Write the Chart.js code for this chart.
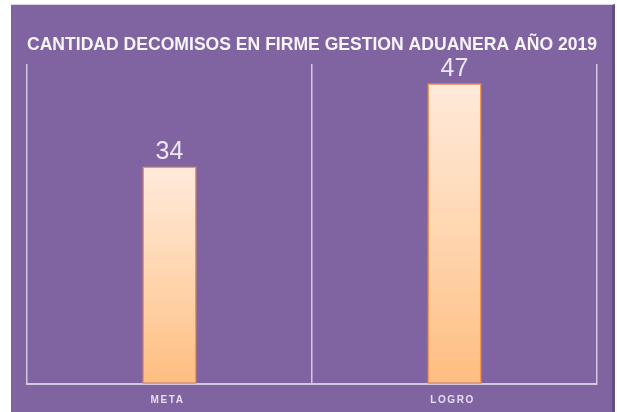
<!DOCTYPE html>
<html>
<head>
<meta charset="utf-8">
<script src="https://cdn.jsdelivr.net/npm/chart.js@4/dist/chart.umd.min.js"></script>
<style>
  html, body { margin: 0; padding: 0; background: #ffffff; }
  body { width: 617px; height: 412px; position: relative; overflow: hidden; }
  #panel {
    position: absolute;
    left: 11px; top: 4px;
    width: 601px; height: 408px;
    background: #8064a2;
    border-right: 3px solid #654d85;
    border-top: 1px solid #d9d4e0;
  }
  #panel canvas { display: block; }
</style>
</head>
<body>
<div id="panel"><canvas id="chart" width="601" height="408"></canvas></div>
<script>
// Decomisos en firme 2019: meta vs logro
const categories = ['META', 'LOGRO'];
const values = [34, 47];
const chartTitle = 'CANTIDAD DECOMISOS EN FIRME GESTION ADUANERA AÑO 2019';
const yMax = 50;

const LABEL_COLOR = '#ece8f2';
const GRID_COLOR = 'rgba(214, 206, 228, 0.95)';

// vertical peach gradient, redrawn per bar so each top is the lightest
function barGradient(context) {
  const chart = context.chart;
  const yScale = chart.scales.y;
  if (!chart.chartArea || !yScale || context.parsed == null) return '#ffd3a8';
  const top = yScale.getPixelForValue(context.parsed.y);
  const base = yScale.getPixelForValue(0);
  const g = chart.ctx.createLinearGradient(0, top, 0, base);
  g.addColorStop(0, '#ffeadb');
  g.addColorStop(0.5, '#ffd6b0');
  g.addColorStop(1, '#ffbd80');
  return g;
}

// value labels above the bars and spaced category labels under the axis
const labelPlugin = {
  id: 'labels',
  afterDraw(chart) {
    const ctx = chart.ctx;
    const meta = chart.getDatasetMeta(0);
    const xScale = chart.scales.x;
    ctx.save();
    ctx.fillStyle = LABEL_COLOR;
    ctx.textAlign = 'center';
    ctx.textBaseline = 'bottom';
    ctx.font = '25px "Liberation Sans", Arial, sans-serif';
    meta.data.forEach((bar, i) => {
      ctx.fillText(String(values[i]), bar.x, bar.y - 2);
    });
    ctx.font = 'bold 10px "Liberation Sans", Arial, sans-serif';
    ctx.textBaseline = 'middle';
    ctx.fillStyle = '#e4def0';
    if ('letterSpacing' in ctx) ctx.letterSpacing = '1.6px';
    categories.forEach((c, i) => {
      ctx.fillText(c, xScale.getPixelForValue(i) - 2, xScale.bottom + 16);
    });
    ctx.restore();
  }
};

new Chart(document.getElementById('chart'), {
  type: 'bar',
  data: {
    labels: categories,
    datasets: [{
      data: values,
      backgroundColor: barGradient,
      borderColor: '#f79646',
      borderWidth: 1.5,
      borderSkipped: false,
      barPercentage: 0.19,
      categoryPercentage: 1
    }]
  },
  options: {
    responsive: false,
    animation: false,
    layout: { padding: { left: 16, right: 15, top: 0, bottom: 29 } },
    plugins: {
      legend: { display: false },
      tooltip: { enabled: false },
      title: {
        display: true,
        text: chartTitle,
        color: '#f7f5fa',
        font: { family: '"Liberation Sans", Arial, sans-serif', size: 18, weight: 'bold', lineHeight: 1.2 },
        padding: { top: 29, bottom: 8.5 }
      }
    },
    scales: {
      x: {
        offset: true,
        grid: { offset: true, color: GRID_COLOR, lineWidth: 1.5, drawTicks: false },
        border: { display: true, color: GRID_COLOR, width: 2 },
        ticks: { display: false }
      },
      y: {
        display: false,
        min: 0,
        max: yMax
      }
    }
  },
  plugins: [labelPlugin]
});
</script>
</body>
</html>
